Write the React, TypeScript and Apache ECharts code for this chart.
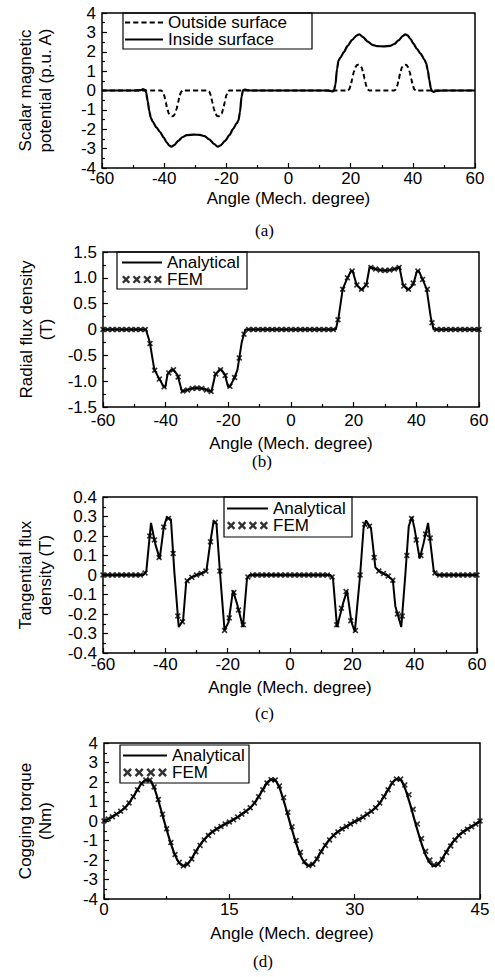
import React, { useEffect, useRef } from "react";
import * as echarts from "echarts";

// ---------- (a) Scalar magnetic potential ----------
const potentialOutside: [number, number][] = [
  [-60, 0], [-41, 0], [-40.5, -0.05], [-40, -0.25], [-39.5, -0.6], [-39, -0.95], [-38.5, -1.2], [-38, -1.31],
  [-37.5, -1.33], [-37, -1.31], [-36.5, -1.2], [-36, -0.95], [-35.5, -0.6], [-35, -0.25], [-34.5, -0.05], [-34, 0],
  [-26, 0], [-25.5, -0.05], [-25, -0.25], [-24.5, -0.6], [-24, -0.95], [-23.5, -1.2], [-23, -1.31],
  [-22.5, -1.33], [-22, -1.31], [-21.5, -1.2], [-21, -0.95], [-20.5, -0.6], [-20, -0.25], [-19.5, -0.05], [-19, 0],
  [19, 0], [19.5, 0.05], [20, 0.25], [20.5, 0.6], [21, 0.95], [21.5, 1.2], [22, 1.31],
  [22.5, 1.33], [23, 1.31], [23.5, 1.2], [24, 0.95], [24.5, 0.6], [25, 0.25], [25.5, 0.05], [26, 0],
  [34, 0], [34.5, 0.05], [35, 0.25], [35.5, 0.6], [36, 0.95], [36.5, 1.2], [37, 1.31],
  [37.5, 1.33], [38, 1.31], [38.5, 1.2], [39, 0.95], [39.5, 0.6], [40, 0.25], [40.5, 0.05], [41, 0], [60, 0],
];
const potentialInside: [number, number][] = [
  [-60, 0], [-50, 0], [-47.5, 0.02], [-46.8, 0.07], [-46.2, 0.03], [-45.8, -0.1], [-45.3, -0.55], [-44.8, -1.05],
  [-44.3, -1.4], [-43.7, -1.6], [-42.5, -1.9], [-41.3, -2.15], [-40.2, -2.42], [-39.2, -2.67], [-38.3, -2.85],
  [-37.6, -2.9], [-36.8, -2.82], [-35.4, -2.59], [-34, -2.4], [-32.8, -2.3], [-30.5, -2.28], [-28.5, -2.29],
  [-27, -2.35], [-25.5, -2.52], [-24, -2.75], [-22.8, -2.9], [-22, -2.85], [-20.4, -2.6], [-19, -2.3],
  [-17.8, -1.98], [-16.7, -1.7], [-16.1, -1.55], [-15.6, -1.1], [-15.1, -0.3], [-14.6, 0.02], [-14, 0.05],
  [-13.3, 0.02], [-12, 0],
  [12, 0], [13.5, -0.02], [14.1, -0.05], [14.6, -0.02], [15.1, 0.3], [15.6, 1.1], [16.1, 1.55], [16.7, 1.7],
  [17.8, 1.98], [19, 2.3], [20.4, 2.6], [22, 2.85], [22.8, 2.9], [24, 2.75], [25.5, 2.52], [27, 2.35],
  [28.5, 2.29], [30.5, 2.28], [32.8, 2.3], [34, 2.4], [35.4, 2.59], [36.8, 2.82], [37.6, 2.9], [38.3, 2.85],
  [39.2, 2.67], [40.2, 2.42], [41.3, 2.15], [42.5, 1.9], [43.7, 1.6], [44.3, 1.4], [44.8, 1.05], [45.3, 0.55],
  [45.8, 0.1], [46.2, -0.03], [46.8, -0.07], [47.5, -0.02], [50, 0], [60, 0],
];

// ---------- (b) Radial flux density ----------
const radialAnalytical: [number, number][] = [
  [-60, 0], [-46.3, 0], [-45.1, -0.24], [-43.6, -0.78], [-41.9, -0.97], [-40.6, -1.11], [-40.1, -1.11],
  [-39.4, -0.87], [-38.3, -0.78], [-37.6, -0.78], [-36.2, -0.88], [-34.8, -1.2], [-33.2, -1.17], [-31.6, -1.14],
  [-30, -1.13], [-28.4, -1.14], [-26.8, -1.17], [-25.4, -1.2], [-24.2, -0.88], [-22.9, -0.78], [-22.2, -0.78],
  [-21.1, -0.87], [-20.1, -1.11], [-19.6, -1.11], [-18.3, -0.97], [-17.1, -0.78], [-15.7, -0.24], [-14.6, 0],
  [14.3, 0], [15.2, 0.24], [16.5, 0.78], [17.8, 0.97], [19.1, 1.13], [19.7, 1.13], [20.9, 0.87], [22.2, 0.78],
  [22.9, 0.78], [24.1, 0.88], [25.1, 1.21], [26.8, 1.17], [28.4, 1.15], [30, 1.14], [31.6, 1.15], [33.2, 1.17],
  [34.6, 1.21], [35.7, 0.88], [37, 0.78], [37.7, 0.78], [39, 0.87], [40.2, 1.13], [40.8, 1.13], [42, 0.97],
  [43.3, 0.78], [44.6, 0.24], [45.5, 0], [60, 0],
];
// FEM sampled every 1.5 degrees from -60 to 60
const femAnglesAB: number[] = Array.from({ length: 81 }, (_, i) => -60 + 1.5 * i);
const radialFem: number[] = [
  0, 0, 0, 0, 0, 0, 0, 0, 0, 0,
  -0.27, -0.79, -0.96, -1.11, -0.84, -0.78, -0.92, -1.19, -1.17, -1.14, -1.13, -1.14, -1.17, -1.2,
  -0.86, -0.78, -0.89, -1.1, -0.93, -0.55, -0.09,
  0, 0, 0, 0, 0, 0, 0, 0, 0, 0, 0, 0, 0, 0, 0, 0, 0, 0, 0,
  0.19, 0.78, 1.0, 1.13, 0.86, 0.78, 0.86, 1.2, 1.17, 1.15, 1.14, 1.15, 1.17, 1.2,
  0.84, 0.78, 0.9, 1.13, 0.97, 0.78, 0.13,
  0,
  0, 0, 0, 0, 0, 0, 0, 0, 0,
];

// ---------- (c) Tangential flux density ----------
const tangentialAnalytical: [number, number][] = [
  [-60, 0], [-47, 0], [-46.1, 0.02], [-44.6, 0.267], [-43.2, 0.157], [-41.8, 0.084], [-40.5, 0.246],
  [-39.5, 0.297], [-38.2, 0.284], [-37.1, 0.015], [-35.7, -0.267], [-34.3, -0.232], [-33.3, -0.036],
  [-32, -0.015], [-30, 0], [-28, 0.01], [-26.8, 0.024], [-25.6, 0.164], [-24.5, 0.277], [-23.6, 0.263],
  [-22.4, 0], [-21, -0.284], [-19.7, -0.241], [-18.3, -0.08], [-17, -0.147], [-15.1, -0.267], [-13.8, -0.019],
  [-13, 0], [13, 0], [13.8, -0.019], [15.1, -0.267], [17, -0.147], [18.3, -0.08], [19.7, -0.241],
  [20.8, -0.29], [22.5, 0], [23.6, 0.24], [24.4, 0.28], [26, 0.238], [27.4, 0.038], [29, 0.015], [31, 0],
  [33, -0.027], [33.8, -0.16], [35.7, -0.267], [37, 0], [38.1, 0.25], [39.1, 0.297], [39.9, 0.243],
  [41.6, 0.084], [42.7, 0.152], [44.3, 0.267], [46.1, 0.024], [47, 0], [60, 0],
];
const tangentialFem: number[] = [
  0, 0, 0, 0, 0, 0, 0, 0, 0, 0.01,
  0.2, 0.18, 0.09, 0.246, 0.29, 0.11, -0.21, -0.24, -0.03, -0.012, 0, 0.008, 0.02, 0.17, 0.27, 0.02,
  -0.284, -0.22, -0.09, -0.18, -0.255, -0.01,
  0, 0, 0, 0, 0, 0, 0, 0, 0, 0, 0, 0, 0, 0, 0, 0, 0,
  -0.01, -0.255, -0.17, -0.085, -0.235, -0.285, 0, 0.26, 0.25, 0.09, 0.02, 0.008, -0.005, -0.027,
  -0.2, -0.21, 0.1, 0.29, 0.18, 0.1, 0.21, 0.19, 0.01,
  0, 0, 0, 0, 0, 0, 0, 0, 0,
];

// ---------- (d) Cogging torque ----------
const torqueAngles: number[] = Array.from({ length: 91 }, (_, i) => 0.5 * i);
const torqueAnalytical: number[] = [
  0, 0.1, 0.22, 0.35, 0.5, 0.68, 0.92, 1.25, 1.6, 1.92, 2.1, 2.08, 1.7, 1.05, 0.3, -0.45, -1.15, -1.75, -2.15, -2.3,
  -2.2, -1.92, -1.55, -1.22, -0.95, -0.72, -0.55, -0.4, -0.28, -0.15,
  -0.05, 0.07, 0.2, 0.35, 0.5, 0.68, 0.92, 1.25, 1.6, 1.95, 2.12, 2.08, 1.7, 1.05, 0.3, -0.45, -1.15, -1.75, -2.15, -2.3,
  -2.2, -1.92, -1.55, -1.22, -0.95, -0.72, -0.55, -0.4, -0.28, -0.15,
  -0.03, 0.08, 0.2, 0.35, 0.5, 0.68, 0.92, 1.25, 1.6, 1.95, 2.15, 2.1, 1.7, 1.05, 0.3, -0.45, -1.15, -1.75, -2.15, -2.3,
  -2.2, -1.92, -1.55, -1.22, -0.95, -0.72, -0.55, -0.4, -0.28, -0.15,
  0,
];
const torqueFem: number[] = [
  0, 0.1, 0.22, 0.35, 0.5, 0.68, 0.92, 1.25, 1.6, 1.92, 2.1, 2.1, 1.75, 1.1, 0.35, -0.4, -1.1, -1.72, -2.12, -2.3,
  -2.22, -1.95, -1.58, -1.25, -0.97, -0.74, -0.56, -0.41, -0.28, -0.15,
  -0.05, 0.07, 0.2, 0.35, 0.5, 0.68, 0.92, 1.25, 1.6, 1.95, 2.12, 2.1, 1.8, 1.2, 0.45, -0.3, -1.0, -1.6, -2.08, -2.28,
  -2.22, -1.95, -1.58, -1.25, -0.97, -0.74, -0.56, -0.41, -0.28, -0.15,
  -0.03, 0.08, 0.2, 0.35, 0.5, 0.68, 0.92, 1.25, 1.6, 1.95, 2.15, 2.15, 1.85, 1.35, 0.6, -0.15, -0.9, -1.55, -2.0, -2.25,
  -2.22, -1.98, -1.62, -1.28, -0.98, -0.75, -0.57, -0.42, -0.29, -0.16,
  0,
];

const FONT = "'Liberation Sans', Arial, Helvetica, sans-serif";
const SERIF = "'Liberation Serif', 'Times New Roman', serif";
const TXT = "#000";

const crossAt = (o: number) =>
  `M${o},2 L${o + 2},0 L${o + 5},3 L${o + 8},0 L${o + 10},2 L${o + 7},5 L${o + 10},8 L${o + 8},10 L${o + 5},7 L${o + 2},10 L${o},8 L${o + 3},5 Z`;
const crossSymbol = "path://" + crossAt(0);
const femIcon = "path://" + [0, 13, 26, 39].map(crossAt).join(" ");
const solidIcon = "path://M0,0 H40 V2 H0 Z";
const dashIcon = "path://" + [0, 8, 16, 24, 32].map((o) => `M${o},0 h5 v2 h-5 Z`).join(" ");

const fmt1 = (v: number) => (v === 0 ? "0" : v.toFixed(1));

function xAxisCfg(gridIndex: number, min: number, max: number, interval: number, labelMargin: number, nameGap: number) {
  return {
    type: "value", gridIndex, min, max, interval,
    name: "Angle (Mech. degree)", nameLocation: "middle", nameGap,
    nameTextStyle: { fontFamily: FONT, fontSize: 17, color: TXT, lineHeight: 17 },
    axisLine: { show: false, onZero: false },
    axisTick: { show: true, inside: true, length: 5, lineStyle: { color: "#000", width: 1.2 } },
    minorTick: { show: true, splitNumber: 2, length: 3, lineStyle: { color: "#000", width: 1.2 } },
    axisLabel: { fontFamily: FONT, fontSize: 17, color: TXT, margin: labelMargin, lineHeight: 17, showMinLabel: true, showMaxLabel: true },
    splitLine: { show: false },
  };
}
function yAxisCfg(gridIndex: number, min: number, max: number, interval: number, name: string, nameGap: number, formatter?: (v: number) => string) {
  return {
    type: "value", gridIndex, min, max, interval,
    name, nameLocation: "middle", nameRotate: 90, nameGap,
    nameTextStyle: { fontFamily: FONT, fontSize: 17, color: TXT, lineHeight: 20, align: "center" },
    axisLine: { show: false, onZero: false },
    axisTick: { show: true, inside: true, length: 5, lineStyle: { color: "#000", width: 1.2 } },
    minorTick: { show: true, splitNumber: 2, length: 3, lineStyle: { color: "#000", width: 1.2 } },
    axisLabel: { fontFamily: FONT, fontSize: 17, color: TXT, margin: 6, formatter, showMinLabel: true, showMaxLabel: true },
    splitLine: { show: false },
  };
}

function legendCfg(left: number, top: number, data: any[], itemWidth: number, itemHeight: number, lineHeight: number, textWidth: number, padding: number[]) {
  return {
    show: true, orient: "vertical", left, top, padding, itemGap: 0, itemWidth, itemHeight,
    selectedMode: false, borderColor: "#000", borderWidth: 1.2, backgroundColor: "transparent",
    itemStyle: { borderWidth: 0, color: "#000" },
    textStyle: { fontFamily: FONT, fontSize: 17, color: TXT, lineHeight, width: textWidth },
    data,
  };
}

export default function App() {
  const ref = useRef<HTMLDivElement>(null);
  useEffect(() => {
    if (!ref.current) return;
    const chart = echarts.init(ref.current, undefined, { renderer: "svg" });
    const gridBase = { show: true, borderColor: "#000", borderWidth: 1.5, backgroundColor: "transparent", containLabel: false };
    const lineBase = { type: "line", showSymbol: false, symbol: "none", color: "#000" };
    const femBase = { type: "scatter", symbol: crossSymbol, symbolSize: 6, color: "#000", itemStyle: { color: "#000" } };
    const option: any = {
      animation: false,
      backgroundColor: "#fff",
      grid: [
        { ...gridBase, left: 102, top: 13, width: 373, height: 155 },
        { ...gridBase, left: 103, top: 252, width: 376, height: 155 },
        { ...gridBase, left: 103, top: 497, width: 374, height: 156 },
        { ...gridBase, left: 104, top: 743, width: 376, height: 156 },
      ],
      xAxis: [
        xAxisCfg(0, -60, 60, 20, 2, 22),
        xAxisCfg(1, -60, 60, 20, 5, 28),
        xAxisCfg(2, -60, 60, 20, 3, 26),
        xAxisCfg(3, 0, 45, 15, 2, 26),
      ],
      yAxis: [
        yAxisCfg(0, -4, 4, 1, "Scalar magnetic\npotential (p.u. A)", 47),
        yAxisCfg(1, -1.5, 1.5, 0.5, "Radial flux density\n(T)", 46, fmt1),
        yAxisCfg(2, -0.4, 0.4, 0.1, "Tangential flux\ndensity (T)", 48, fmt1),
        yAxisCfg(3, -4, 4, 1, "Cogging torque\n(Nm)", 49),
      ],
      legend: [
        legendCfg(123, 13, [{ name: "Outside surface", icon: dashIcon }, { name: "Inside surface", icon: solidIcon }], 38, 15, 15, 140, [1, 4, 1, 2]),
        legendCfg(117, 252, [{ name: "Analytical", icon: solidIcon }, { name: "FEM", icon: femIcon }], 40, 17, 17, 76, [2, 4, 1, 5]),
        legendCfg(224, 497, [{ name: "Analytical", icon: solidIcon }, { name: "FEM", icon: femIcon }], 41, 13, 13, 75, [3, 4, 3, 3]),
        legendCfg(120, 745, [{ name: "Analytical", icon: solidIcon }, { name: "FEM", icon: femIcon }], 44, 13, 13, 73, [2, 4, 2, 3]),
      ],
      series: [
        { ...lineBase, name: "Outside surface", xAxisIndex: 0, yAxisIndex: 0, data: potentialOutside, smooth: 0.25, smoothMonotone: "x",
          lineStyle: { color: "#000", width: 2, type: [5, 3] } },
        { ...lineBase, name: "Inside surface", xAxisIndex: 0, yAxisIndex: 0, data: potentialInside, smooth: 0.25, smoothMonotone: "x",
          lineStyle: { color: "#000", width: 2.2 } },
        { ...lineBase, name: "Analytical", xAxisIndex: 1, yAxisIndex: 1, data: radialAnalytical, lineStyle: { color: "#000", width: 2 } },
        { ...femBase, name: "FEM", xAxisIndex: 1, yAxisIndex: 1, data: femAnglesAB.map((a, i) => [a, radialFem[i]]) },
        { ...lineBase, name: "Analytical", xAxisIndex: 2, yAxisIndex: 2, data: tangentialAnalytical, lineStyle: { color: "#000", width: 2 } },
        { ...femBase, name: "FEM", xAxisIndex: 2, yAxisIndex: 2, data: femAnglesAB.map((a, i) => [a, tangentialFem[i]]) },
        { ...lineBase, name: "Analytical", xAxisIndex: 3, yAxisIndex: 3, data: torqueAngles.map((a, i) => [a, torqueAnalytical[i]]),
          smooth: 0.3, lineStyle: { color: "#000", width: 2.2 } },
        { ...femBase, name: "FEM", xAxisIndex: 3, yAxisIndex: 3, data: torqueAngles.map((a, i) => [a, torqueFem[i]]) },
      ],
      graphic: [
        { type: "text", left: 255, top: 222, style: { text: "(a)", font: `17px ${SERIF}`, fill: "#000" } },
        { type: "text", left: 252, top: 453, style: { text: "(b)", font: `17px ${SERIF}`, fill: "#000" } },
        { type: "text", left: 255, top: 705, style: { text: "(c)", font: `17px ${SERIF}`, fill: "#000" } },
        { type: "text", left: 253, top: 953, style: { text: "(d)", font: `17px ${SERIF}`, fill: "#000" } },
      ],
    };
    chart.setOption(option);
    return () => chart.dispose();
  }, []);
  return <div ref={ref} style={{ position: "absolute", left: 0, top: 0, width: 495, height: 977 }} />;
}
